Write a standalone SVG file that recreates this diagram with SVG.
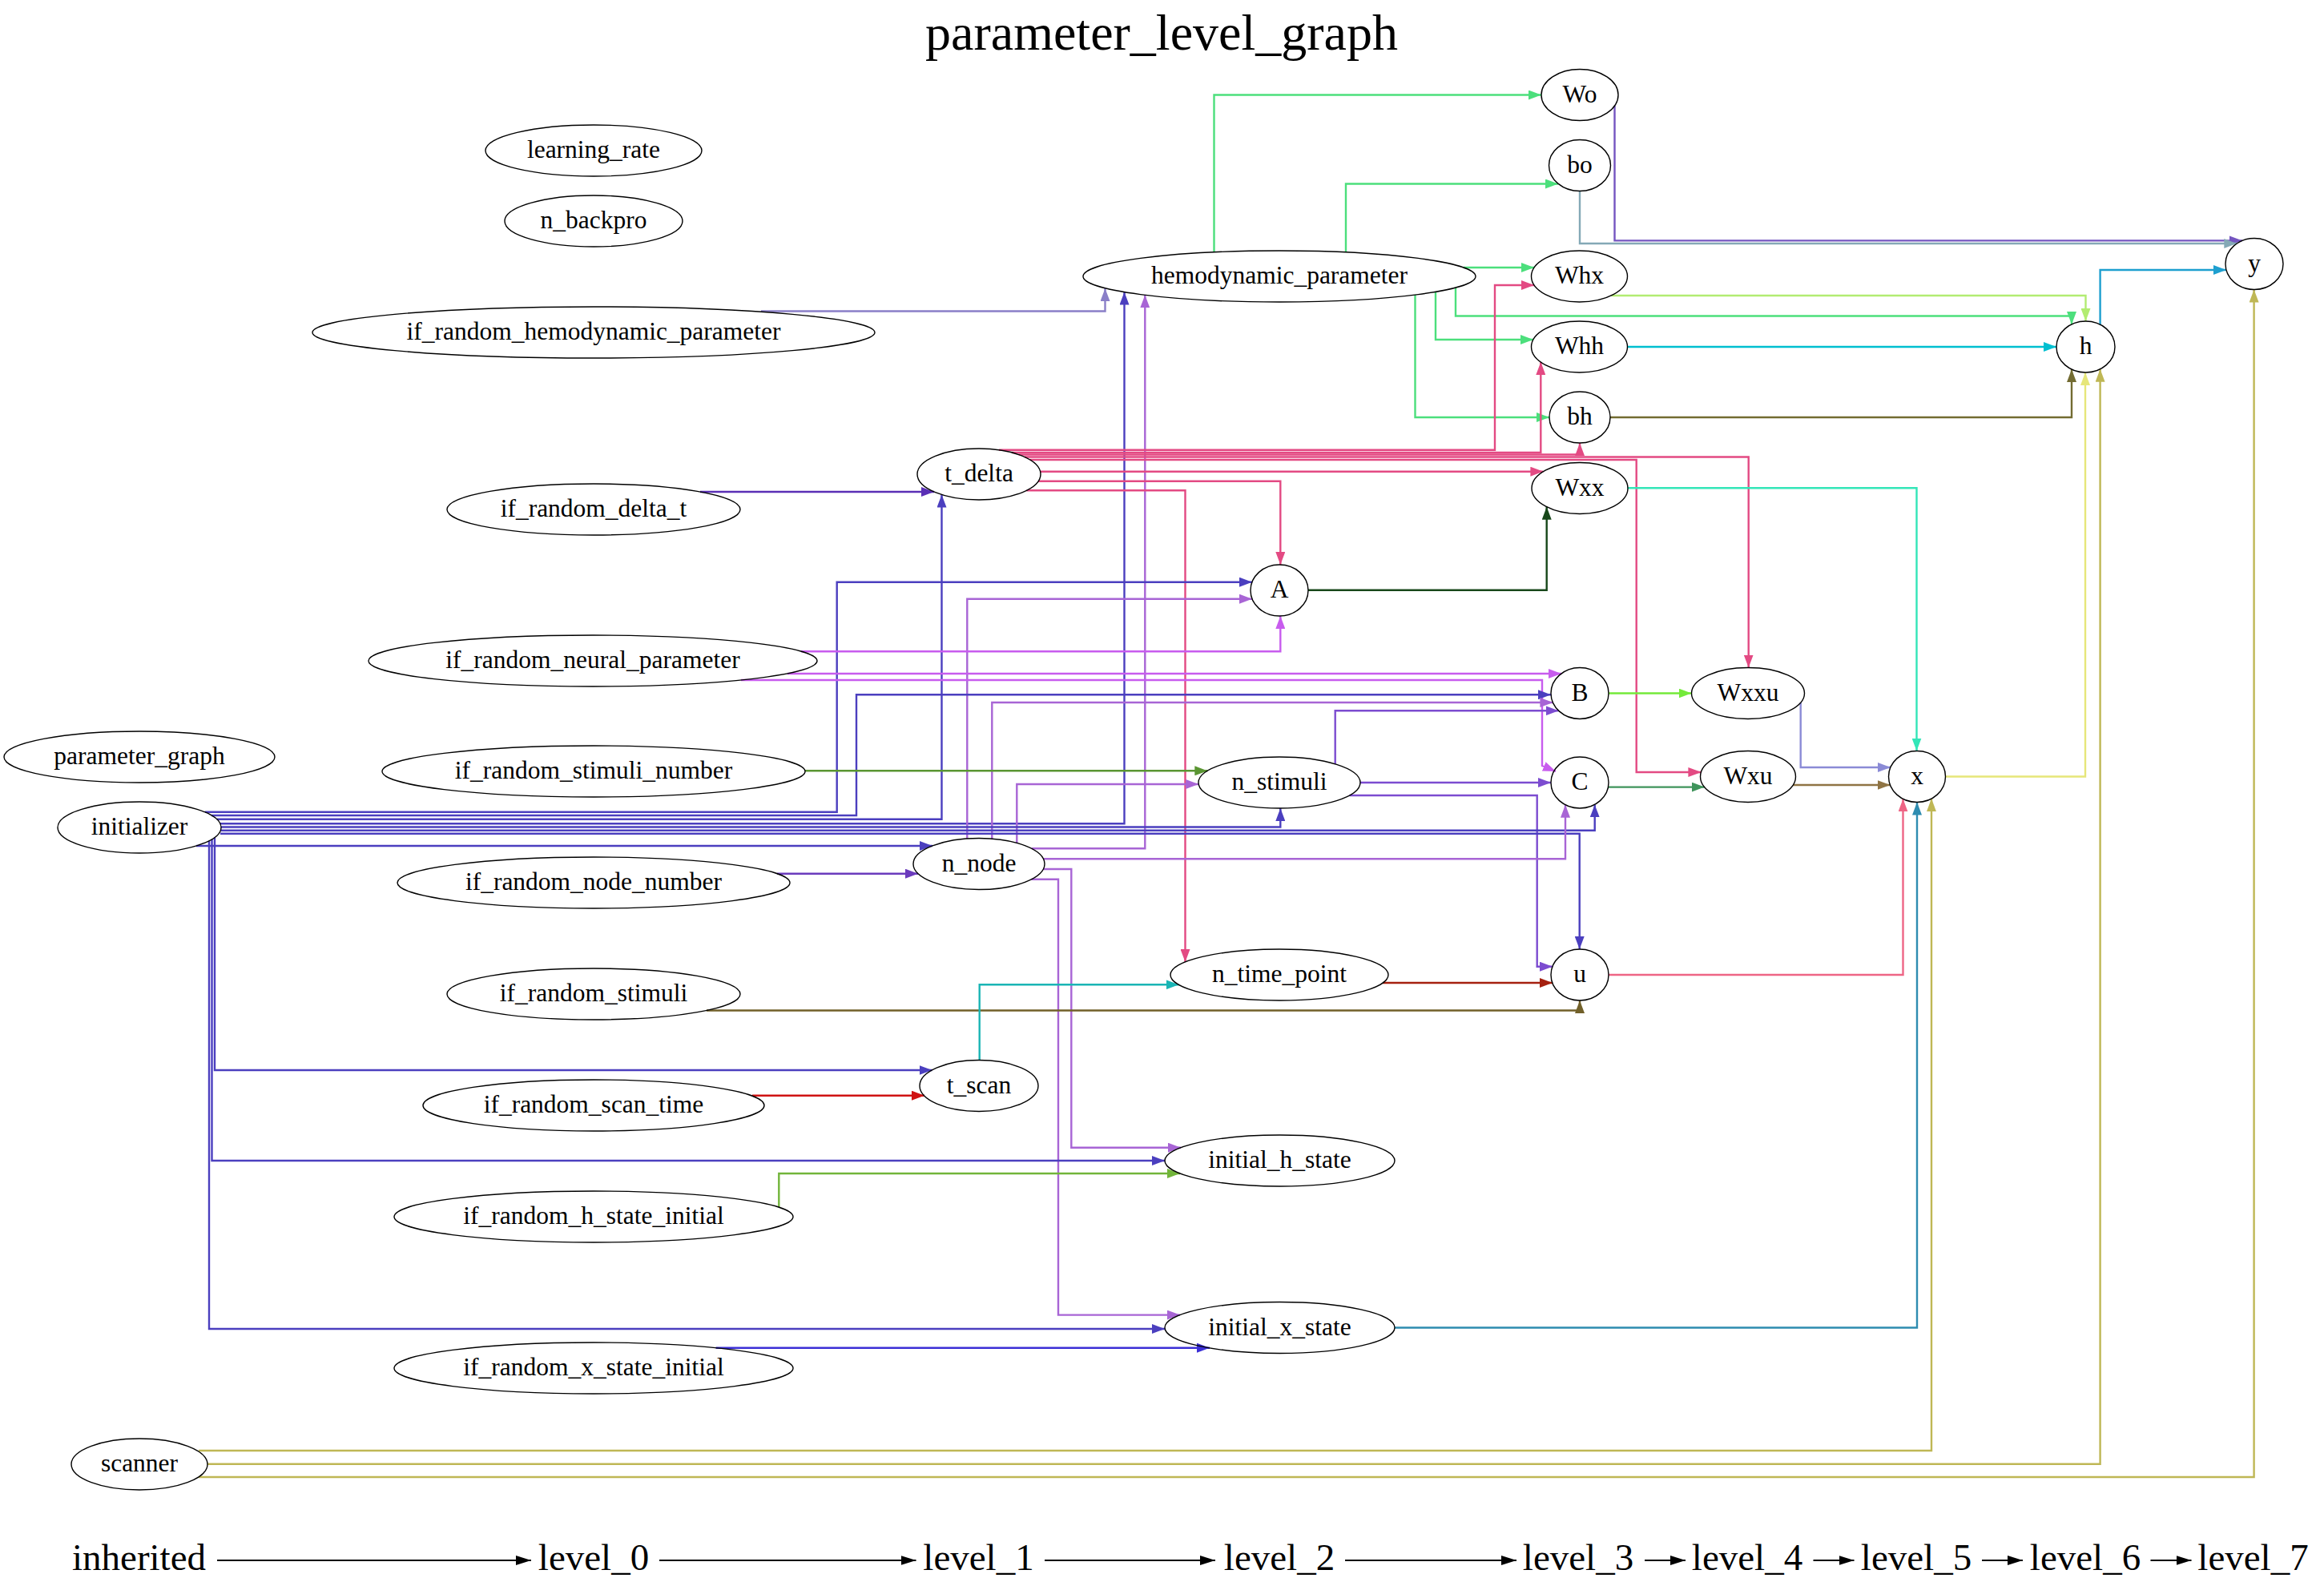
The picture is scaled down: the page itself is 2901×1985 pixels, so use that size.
<svg xmlns="http://www.w3.org/2000/svg" width="2901" height="1985" viewBox="0 0 2901 1985">
<style>
.node ellipse{fill:none;stroke:#000;stroke-width:1.4}
text{font-family:"Liberation Serif","Times New Roman",serif;text-anchor:middle;fill:#000}
.node text{font-size:31.5px}
.lvl text{font-size:47px}
#edges path{fill:none;stroke-width:2.4}
#level_edges path{fill:none;stroke:#000;stroke-width:2;marker-end:url(#mk)}
</style>
<defs>
<marker id="mk" viewBox="0 0 19 12" refX="19" refY="6" markerWidth="19" markerHeight="12" markerUnits="userSpaceOnUse" orient="auto"><path d="M0,0L19,6L0,12z" fill="#000"/></marker>
<marker id="m_grn" viewBox="0 0 16 12" refX="16" refY="6" markerWidth="16" markerHeight="12" markerUnits="userSpaceOnUse" orient="auto"><path d="M0,0L16,6L0,12z" fill="#4cdf7c"/></marker>
<marker id="m_lav" viewBox="0 0 16 12" refX="16" refY="6" markerWidth="16" markerHeight="12" markerUnits="userSpaceOnUse" orient="auto"><path d="M0,0L16,6L0,12z" fill="#8a7fc8"/></marker>
<marker id="m_blu" viewBox="0 0 16 12" refX="16" refY="6" markerWidth="16" markerHeight="12" markerUnits="userSpaceOnUse" orient="auto"><path d="M0,0L16,6L0,12z" fill="#4b3fbf"/></marker>
<marker id="m_pur" viewBox="0 0 16 12" refX="16" refY="6" markerWidth="16" markerHeight="12" markerUnits="userSpaceOnUse" orient="auto"><path d="M0,0L16,6L0,12z" fill="#a865d5"/></marker>
<marker id="m_pnk" viewBox="0 0 16 12" refX="16" refY="6" markerWidth="16" markerHeight="12" markerUnits="userSpaceOnUse" orient="auto"><path d="M0,0L16,6L0,12z" fill="#e34a83"/></marker>
<marker id="m_dlt" viewBox="0 0 16 12" refX="16" refY="6" markerWidth="16" markerHeight="12" markerUnits="userSpaceOnUse" orient="auto"><path d="M0,0L16,6L0,12z" fill="#5a2fb5"/></marker>
<marker id="m_dkg" viewBox="0 0 16 12" refX="16" refY="6" markerWidth="16" markerHeight="12" markerUnits="userSpaceOnUse" orient="auto"><path d="M0,0L16,6L0,12z" fill="#17471a"/></marker>
<marker id="m_mag" viewBox="0 0 16 12" refX="16" refY="6" markerWidth="16" markerHeight="12" markerUnits="userSpaceOnUse" orient="auto"><path d="M0,0L16,6L0,12z" fill="#c85cee"/></marker>
<marker id="m_nst" viewBox="0 0 16 12" refX="16" refY="6" markerWidth="16" markerHeight="12" markerUnits="userSpaceOnUse" orient="auto"><path d="M0,0L16,6L0,12z" fill="#7c4cd0"/></marker>
<marker id="m_g2" viewBox="0 0 16 12" refX="16" refY="6" markerWidth="16" markerHeight="12" markerUnits="userSpaceOnUse" orient="auto"><path d="M0,0L16,6L0,12z" fill="#5a9532"/></marker>
<marker id="m_nnn" viewBox="0 0 16 12" refX="16" refY="6" markerWidth="16" markerHeight="12" markerUnits="userSpaceOnUse" orient="auto"><path d="M0,0L16,6L0,12z" fill="#6b3bbd"/></marker>
<marker id="m_dred" viewBox="0 0 16 12" refX="16" refY="6" markerWidth="16" markerHeight="12" markerUnits="userSpaceOnUse" orient="auto"><path d="M0,0L16,6L0,12z" fill="#a5200f"/></marker>
<marker id="m_olv" viewBox="0 0 16 12" refX="16" refY="6" markerWidth="16" markerHeight="12" markerUnits="userSpaceOnUse" orient="auto"><path d="M0,0L16,6L0,12z" fill="#716029"/></marker>
<marker id="m_tel" viewBox="0 0 16 12" refX="16" refY="6" markerWidth="16" markerHeight="12" markerUnits="userSpaceOnUse" orient="auto"><path d="M0,0L16,6L0,12z" fill="#1ab5b5"/></marker>
<marker id="m_red" viewBox="0 0 16 12" refX="16" refY="6" markerWidth="16" markerHeight="12" markerUnits="userSpaceOnUse" orient="auto"><path d="M0,0L16,6L0,12z" fill="#d01313"/></marker>
<marker id="m_g3" viewBox="0 0 16 12" refX="16" refY="6" markerWidth="16" markerHeight="12" markerUnits="userSpaceOnUse" orient="auto"><path d="M0,0L16,6L0,12z" fill="#72b53a"/></marker>
<marker id="m_b2" viewBox="0 0 16 12" refX="16" refY="6" markerWidth="16" markerHeight="12" markerUnits="userSpaceOnUse" orient="auto"><path d="M0,0L16,6L0,12z" fill="#3b2fd6"/></marker>
<marker id="m_tb" viewBox="0 0 16 12" refX="16" refY="6" markerWidth="16" markerHeight="12" markerUnits="userSpaceOnUse" orient="auto"><path d="M0,0L16,6L0,12z" fill="#2e8cb0"/></marker>
<marker id="m_ux" viewBox="0 0 16 12" refX="16" refY="6" markerWidth="16" markerHeight="12" markerUnits="userSpaceOnUse" orient="auto"><path d="M0,0L16,6L0,12z" fill="#ee6585"/></marker>
<marker id="m_scn" viewBox="0 0 16 12" refX="16" refY="6" markerWidth="16" markerHeight="12" markerUnits="userSpaceOnUse" orient="auto"><path d="M0,0L16,6L0,12z" fill="#bfb755"/></marker>
<marker id="m_aq" viewBox="0 0 16 12" refX="16" refY="6" markerWidth="16" markerHeight="12" markerUnits="userSpaceOnUse" orient="auto"><path d="M0,0L16,6L0,12z" fill="#33e6b8"/></marker>
<marker id="m_l2" viewBox="0 0 16 12" refX="16" refY="6" markerWidth="16" markerHeight="12" markerUnits="userSpaceOnUse" orient="auto"><path d="M0,0L16,6L0,12z" fill="#8b8bd6"/></marker>
<marker id="m_brn" viewBox="0 0 16 12" refX="16" refY="6" markerWidth="16" markerHeight="12" markerUnits="userSpaceOnUse" orient="auto"><path d="M0,0L16,6L0,12z" fill="#8f7444"/></marker>
<marker id="m_lim" viewBox="0 0 16 12" refX="16" refY="6" markerWidth="16" markerHeight="12" markerUnits="userSpaceOnUse" orient="auto"><path d="M0,0L16,6L0,12z" fill="#74ea3a"/></marker>
<marker id="m_g4" viewBox="0 0 16 12" refX="16" refY="6" markerWidth="16" markerHeight="12" markerUnits="userSpaceOnUse" orient="auto"><path d="M0,0L16,6L0,12z" fill="#3f945b"/></marker>
<marker id="m_yel" viewBox="0 0 16 12" refX="16" refY="6" markerWidth="16" markerHeight="12" markerUnits="userSpaceOnUse" orient="auto"><path d="M0,0L16,6L0,12z" fill="#e6e67a"/></marker>
<marker id="m_lg" viewBox="0 0 16 12" refX="16" refY="6" markerWidth="16" markerHeight="12" markerUnits="userSpaceOnUse" orient="auto"><path d="M0,0L16,6L0,12z" fill="#b2ec72"/></marker>
<marker id="m_cy" viewBox="0 0 16 12" refX="16" refY="6" markerWidth="16" markerHeight="12" markerUnits="userSpaceOnUse" orient="auto"><path d="M0,0L16,6L0,12z" fill="#00bfd0"/></marker>
<marker id="m_od" viewBox="0 0 16 12" refX="16" refY="6" markerWidth="16" markerHeight="12" markerUnits="userSpaceOnUse" orient="auto"><path d="M0,0L16,6L0,12z" fill="#736c32"/></marker>
<marker id="m_hy" viewBox="0 0 16 12" refX="16" refY="6" markerWidth="16" markerHeight="12" markerUnits="userSpaceOnUse" orient="auto"><path d="M0,0L16,6L0,12z" fill="#1e9fcf"/></marker>
<marker id="m_wo" viewBox="0 0 16 12" refX="16" refY="6" markerWidth="16" markerHeight="12" markerUnits="userSpaceOnUse" orient="auto"><path d="M0,0L16,6L0,12z" fill="#7455c0"/></marker>
<marker id="m_bo" viewBox="0 0 16 12" refX="16" refY="6" markerWidth="16" markerHeight="12" markerUnits="userSpaceOnUse" orient="auto"><path d="M0,0L16,6L0,12z" fill="#84a9b6"/></marker>
</defs>
<rect width="2901" height="1985" fill="#fff"/>
<text id="title" x="1450" y="62" font-size="64">parameter_level_graph</text>

<g id="edges">
<path d="M1515.5,315V118.5H1924" stroke="#4cdf7c" marker-end="url(#m_grn)"/>
<path d="M1680,315V229.5H1945" stroke="#4cdf7c" marker-end="url(#m_grn)"/>
<path d="M1827,334H1915" stroke="#4cdf7c" marker-end="url(#m_grn)"/>
<path d="M1817,359V394.5H2586V405" stroke="#4cdf7c" marker-end="url(#m_grn)"/>
<path d="M1792,364V424H1914" stroke="#4cdf7c" marker-end="url(#m_grn)"/>
<path d="M1766.5,368V521H1934" stroke="#4cdf7c" marker-end="url(#m_grn)"/>
<path d="M950,388.5H1379.5V360" stroke="#8a7fc8" marker-end="url(#m_lav)"/>
<path d="M275,1028.3H1403.5V364.6" stroke="#4b3fbf" marker-end="url(#m_blu)"/>
<path d="M1288,1059.3H1429.3V368.3" stroke="#a865d5" marker-end="url(#m_pur)"/>
<path d="M1247,561.7H1866V356H1915" stroke="#e34a83" marker-end="url(#m_pnk)"/>
<path d="M1263,565H1923.3V452" stroke="#e34a83" marker-end="url(#m_pnk)"/>
<path d="M1271.5,567.5H1972V553" stroke="#e34a83" marker-end="url(#m_pnk)"/>
<path d="M1279,570.5H2182.7V833.5" stroke="#e34a83" marker-end="url(#m_pnk)"/>
<path d="M1285.7,574H2042.7V964H2123.4" stroke="#e34a83" marker-end="url(#m_pnk)"/>
<path d="M1298.6,588.7H1926.4" stroke="#e34a83" marker-end="url(#m_pnk)"/>
<path d="M1296,600.7H1598.3V705" stroke="#e34a83" marker-end="url(#m_pnk)"/>
<path d="M1281.5,612.3H1479.5V1201" stroke="#e34a83" marker-end="url(#m_pnk)"/>
<path d="M874,614H1166" stroke="#5a2fb5" marker-end="url(#m_dlt)"/>
<path d="M270.6,1022.7H1175.5V617.5" stroke="#4b3fbf" marker-end="url(#m_blu)"/>
<path d="M1633,736.7H1930.7V632.7" stroke="#17471a" marker-end="url(#m_dkg)"/>
<path d="M256,1013.8H1044.7V726.7H1563" stroke="#4b3fbf" marker-end="url(#m_blu)"/>
<path d="M1207.3,1047V747.7H1563" stroke="#a865d5" marker-end="url(#m_pur)"/>
<path d="M1000,813.3H1598.3V769" stroke="#c85cee" marker-end="url(#m_mag)"/>
<path d="M983,841H1949" stroke="#c85cee" marker-end="url(#m_mag)"/>
<path d="M925,849H1925V956L1942,963" stroke="#c85cee" marker-end="url(#m_mag)"/>
<path d="M264,1018H1069V867.3H1936" stroke="#4b3fbf" marker-end="url(#m_blu)"/>
<path d="M1238.3,1047.2V877H1938.4" stroke="#a865d5" marker-end="url(#m_pur)"/>
<path d="M1666.7,953.8V887.3H1945.6" stroke="#7c4cd0" marker-end="url(#m_nst)"/>
<path d="M1005,962.3H1507.3" stroke="#5a9532" marker-end="url(#m_g2)"/>
<path d="M1269.3,1052.4V979H1496.2" stroke="#a865d5" marker-end="url(#m_pur)"/>
<path d="M1698,977H1936" stroke="#7c4cd0" marker-end="url(#m_nst)"/>
<path d="M1684.5,993H1918.7V1206.7H1938" stroke="#7c4cd0" marker-end="url(#m_nst)"/>
<path d="M276,1032.5H1598.3V1009" stroke="#4b3fbf" marker-end="url(#m_blu)"/>
<path d="M276,1036.7H1990.7V1004.4" stroke="#4b3fbf" marker-end="url(#m_blu)"/>
<path d="M275,1040.7H1971.7V1185" stroke="#4b3fbf" marker-end="url(#m_blu)"/>
<path d="M1302.5,1072.3H1954V1004.7" stroke="#a865d5" marker-end="url(#m_pur)"/>
<path d="M245,1056H1164" stroke="#4b3fbf" marker-end="url(#m_blu)"/>
<path d="M970,1090.7H1146" stroke="#6b3bbd" marker-end="url(#m_nnn)"/>
<path d="M1302.3,1085H1337.3V1432.7H1474" stroke="#a865d5" marker-end="url(#m_pur)"/>
<path d="M1287.6,1097.7H1321V1641.6H1473" stroke="#a865d5" marker-end="url(#m_pur)"/>
<path d="M1726,1227H1938" stroke="#a5200f" marker-end="url(#m_dred)"/>
<path d="M882,1261.5H1972V1249" stroke="#716029" marker-end="url(#m_olv)"/>
<path d="M1222.7,1323.5V1229.3H1471.5" stroke="#1ab5b5" marker-end="url(#m_tel)"/>
<path d="M268,1045.4V1336H1163.5" stroke="#4b3fbf" marker-end="url(#m_blu)"/>
<path d="M939,1367.7H1154" stroke="#d01313" marker-end="url(#m_red)"/>
<path d="M264.5,1047.8V1449H1454" stroke="#4b3fbf" marker-end="url(#m_blu)"/>
<path d="M972.3,1507V1465H1473" stroke="#72b53a" marker-end="url(#m_g3)"/>
<path d="M261,1049.7V1659H1454" stroke="#4b3fbf" marker-end="url(#m_blu)"/>
<path d="M893.6,1682.7H1510" stroke="#3b2fd6" marker-end="url(#m_b2)"/>
<path d="M1741,1657.5H2393V1001.5" stroke="#2e8cb0" marker-end="url(#m_tb)"/>
<path d="M2008,1217H2375.5V997.3" stroke="#ee6585" marker-end="url(#m_ux)"/>
<path d="M248,1811H2411V997.1" stroke="#bfb755" marker-end="url(#m_scn)"/>
<path d="M259,1827.8H2621.6V460.8" stroke="#bfb755" marker-end="url(#m_scn)"/>
<path d="M248,1844H2813.6V361.5" stroke="#bfb755" marker-end="url(#m_scn)"/>
<path d="M2031.7,609.3H2392.5V937.5" stroke="#33e6b8" marker-end="url(#m_aq)"/>
<path d="M2247.7,877V958H2360" stroke="#8b8bd6" marker-end="url(#m_l2)"/>
<path d="M2238,980H2359.5" stroke="#8f7444" marker-end="url(#m_brn)"/>
<path d="M2008,865.5H2111.5" stroke="#74ea3a" marker-end="url(#m_lim)"/>
<path d="M2007.5,982.6H2127.7" stroke="#3f945b" marker-end="url(#m_g4)"/>
<path d="M2428.5,969.5H2603V465" stroke="#e6e67a" marker-end="url(#m_yel)"/>
<path d="M2011.5,369H2603.5V401" stroke="#b2ec72" marker-end="url(#m_lg)"/>
<path d="M2031.5,433H2567" stroke="#00bfd0" marker-end="url(#m_cy)"/>
<path d="M2010,521H2586V461" stroke="#736c32" marker-end="url(#m_od)"/>
<path d="M2621.6,405.2V337H2779" stroke="#1e9fcf" marker-end="url(#m_hy)"/>
<path d="M2015.5,132V300.4H2799" stroke="#7455c0" marker-end="url(#m_wo)"/>
<path d="M1972,238.5V304H2792.3" stroke="#84a9b6" marker-end="url(#m_bo)"/>
</g>

<g id="nodes">
<g id="learning_rate" class="node"><ellipse cx="741" cy="188" rx="135" ry="32"/><text x="741" y="197">learning_rate</text></g>
<g id="n_backpro" class="node"><ellipse cx="741" cy="276" rx="111" ry="32"/><text x="741" y="285">n_backpro</text></g>
<g id="if_random_hemodynamic_parameter" class="node"><ellipse cx="741" cy="415" rx="351" ry="32"/><text x="741" y="424">if_random_hemodynamic_parameter</text></g>
<g id="if_random_delta_t" class="node"><ellipse cx="741" cy="636" rx="183" ry="32"/><text x="741" y="645">if_random_delta_t</text></g>
<g id="if_random_neural_parameter" class="node"><ellipse cx="740" cy="825" rx="280" ry="32"/><text x="740" y="834">if_random_neural_parameter</text></g>
<g id="parameter_graph" class="node"><ellipse cx="174" cy="945" rx="169" ry="32"/><text x="174" y="954">parameter_graph</text></g>
<g id="if_random_stimuli_number" class="node"><ellipse cx="741" cy="963" rx="264" ry="32"/><text x="741" y="972">if_random_stimuli_number</text></g>
<g id="initializer" class="node"><ellipse cx="174" cy="1033" rx="102" ry="32"/><text x="174" y="1042">initializer</text></g>
<g id="if_random_node_number" class="node"><ellipse cx="741" cy="1102" rx="245" ry="32"/><text x="741" y="1111">if_random_node_number</text></g>
<g id="if_random_stimuli" class="node"><ellipse cx="741" cy="1241" rx="183" ry="32"/><text x="741" y="1250">if_random_stimuli</text></g>
<g id="if_random_scan_time" class="node"><ellipse cx="741" cy="1380" rx="213" ry="32"/><text x="741" y="1389">if_random_scan_time</text></g>
<g id="if_random_h_state_initial" class="node"><ellipse cx="741" cy="1519" rx="249" ry="32"/><text x="741" y="1528">if_random_h_state_initial</text></g>
<g id="if_random_x_state_initial" class="node"><ellipse cx="741" cy="1708" rx="249" ry="32"/><text x="741" y="1717">if_random_x_state_initial</text></g>
<g id="scanner" class="node"><ellipse cx="174" cy="1828" rx="85" ry="32"/><text x="174" y="1837">scanner</text></g>
<g id="t_delta" class="node"><ellipse cx="1222" cy="592" rx="77" ry="32"/><text x="1222" y="601">t_delta</text></g>
<g id="n_node" class="node"><ellipse cx="1222" cy="1078.5" rx="82" ry="32"/><text x="1222" y="1087.5">n_node</text></g>
<g id="t_scan" class="node"><ellipse cx="1222" cy="1355.5" rx="74" ry="32"/><text x="1222" y="1364.5">t_scan</text></g>
<g id="hemodynamic_parameter" class="node"><ellipse cx="1597" cy="345" rx="245" ry="32"/><text x="1597" y="354">hemodynamic_parameter</text></g>
<g id="A" class="node"><ellipse cx="1597" cy="737" rx="36" ry="32"/><text x="1597" y="746">A</text></g>
<g id="n_stimuli" class="node"><ellipse cx="1597" cy="977" rx="101" ry="32"/><text x="1597" y="986">n_stimuli</text></g>
<g id="n_time_point" class="node"><ellipse cx="1597" cy="1217" rx="136" ry="32"/><text x="1597" y="1226">n_time_point</text></g>
<g id="initial_h_state" class="node"><ellipse cx="1597.5" cy="1449" rx="143.5" ry="32"/><text x="1597.5" y="1458">initial_h_state</text></g>
<g id="initial_x_state" class="node"><ellipse cx="1597.5" cy="1657.5" rx="143.5" ry="32"/><text x="1597.5" y="1666.5">initial_x_state</text></g>
<g id="Wo" class="node"><ellipse cx="1972" cy="118.5" rx="48" ry="32"/><text x="1972" y="127.5">Wo</text></g>
<g id="bo" class="node"><ellipse cx="1972" cy="206.5" rx="38.5" ry="32"/><text x="1972" y="215.5">bo</text></g>
<g id="Whx" class="node"><ellipse cx="1971.5" cy="345" rx="60" ry="32"/><text x="1971.5" y="354">Whx</text></g>
<g id="Whh" class="node"><ellipse cx="1971.5" cy="433" rx="60" ry="32"/><text x="1971.5" y="442">Whh</text></g>
<g id="bh" class="node"><ellipse cx="1972" cy="521" rx="38" ry="32"/><text x="1972" y="530">bh</text></g>
<g id="Wxx" class="node"><ellipse cx="1972" cy="609.5" rx="60" ry="32"/><text x="1972" y="618.5">Wxx</text></g>
<g id="B" class="node"><ellipse cx="1972" cy="865.5" rx="36" ry="32"/><text x="1972" y="874.5">B</text></g>
<g id="C" class="node"><ellipse cx="1972" cy="977" rx="36" ry="32"/><text x="1972" y="986">C</text></g>
<g id="u" class="node"><ellipse cx="1972" cy="1217" rx="36" ry="32"/><text x="1972" y="1226">u</text></g>
<g id="Wxxu" class="node"><ellipse cx="2182" cy="865.5" rx="70.5" ry="32"/><text x="2182" y="874.5">Wxxu</text></g>
<g id="Wxu" class="node"><ellipse cx="2182" cy="969.5" rx="59.5" ry="32"/><text x="2182" y="978.5">Wxu</text></g>
<g id="x" class="node"><ellipse cx="2393" cy="969.5" rx="35.5" ry="32"/><text x="2393" y="978.5">x</text></g>
<g id="h" class="node"><ellipse cx="2603.5" cy="433" rx="36.5" ry="32"/><text x="2603.5" y="442">h</text></g>
<g id="y" class="node"><ellipse cx="2814" cy="329.5" rx="36" ry="32"/><text x="2814" y="338.5">y</text></g>
</g>

<g id="level_edges">
<path d="M271,1948H663"/>
<path d="M823,1948H1143.5"/>
<path d="M1304,1948H1517"/>
<path d="M1679,1948H1893"/>
<path d="M2053,1948H2104"/>
<path d="M2263.5,1948H2314.5"/>
<path d="M2474,1948H2525"/>
<path d="M2684.5,1948H2735.5"/>
</g>
<g class="lvl">
<g id="lvl_inherited"><text x="173.5" y="1960">inherited</text></g>
<g id="lvl_0"><text x="741" y="1960">level_0</text></g>
<g id="lvl_1"><text x="1221.5" y="1960">level_1</text></g>
<g id="lvl_2"><text x="1597" y="1960">level_2</text></g>
<g id="lvl_3"><text x="1970" y="1960">level_3</text></g>
<g id="lvl_4"><text x="2181" y="1960">level_4</text></g>
<g id="lvl_5"><text x="2392" y="1960">level_5</text></g>
<g id="lvl_6"><text x="2603" y="1960">level_6</text></g>
<g id="lvl_7"><text x="2812.5" y="1960">level_7</text></g>
</g>
</svg>
